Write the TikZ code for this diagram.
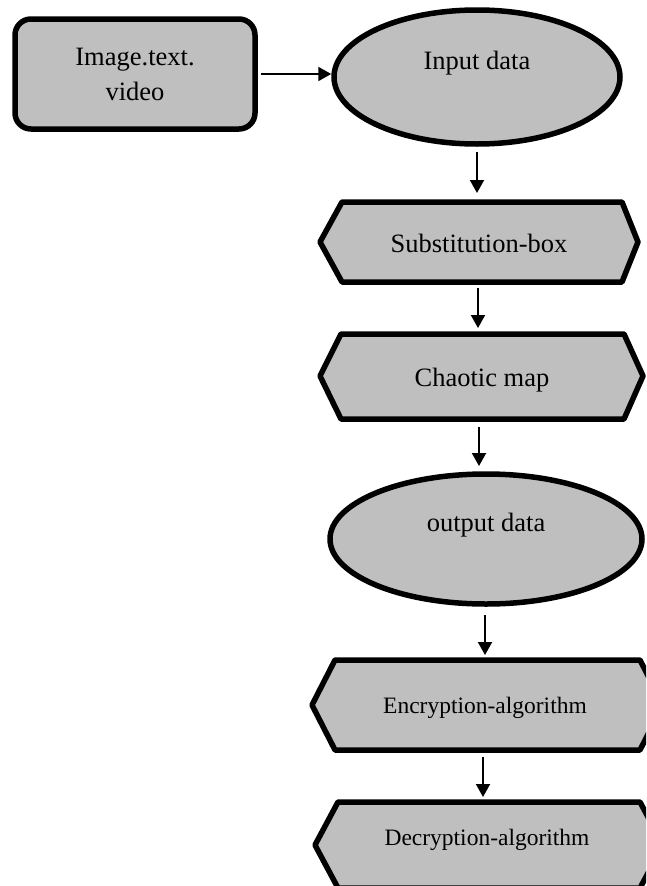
\documentclass[tikz,border=0pt]{standalone}
\usepackage{fontspec}
\setmainfont{Liberation Serif}
\usetikzlibrary{shapes.geometric}
\usetikzlibrary{arrows.meta}
\tikzset{>={Triangle[length=13pt,width=14pt]}}
\tikzset{
	% gray blocks
	blk/.style={fill=black!25,draw=black,line width=5.5pt,line join=round},
	% labels
	lbl/.style={font=\fontsize{26.5}{35}\selectfont,align=center,inner sep=0pt},
	smalllbl/.style={font=\fontsize{23.5}{26}\selectfont,inner sep=0pt},
	% arrows
	flow/.style={->,line width=2pt},
}
\begin{document}
\begin{tikzpicture}[x=1pt,y=-1pt]
	\useasboundingbox (0,0) rectangle (646,886);
	\clip (0,0) rectangle (646,886);
	
	\node[blk,lbl,rounded corners=16pt,minimum width=240pt,minimum height=110pt] (src) at (135,74) {Image.text.\\video};
	
	\node[blk,ellipse,minimum width=286pt,minimum height=134pt] (inp) at (477,77) {};
	\node[lbl] (inptxt) at (477,63) {Input data};
	
	\filldraw[blk] (320,242) -- (342,202) -- (622,202) -- (638,242) -- (622,282) -- (342,282) -- cycle;
	\node[lbl] (sbox) at (479,243) {Substitution-box};
	
	\filldraw[blk] (320,376) -- (341,334) -- (624,334) -- (643,376) -- (624,419) -- (341,419) -- cycle;
	\node[lbl] (chaos) at (482,380) {Chaotic map};
	
	\node[blk,ellipse,minimum width=312pt,minimum height=130pt] (outp) at (486,539) {};
	\node[lbl] (outptxt) at (486,525) {output data};
	
	\filldraw[blk] (312,705) -- (335,660) -- (640,660) -- (663,705) -- (640,750) -- (335,750) -- cycle;
	\node[smalllbl] (enc) at (485,708) {Encryption-algorithm};
	
	\filldraw[blk] (315,845) -- (338,802) -- (640,802) -- (663,845) -- (640,888) -- (338,888) -- cycle;
	\node[smalllbl] (dec) at (487,840) {Decryption-algorithm};
	
	% arrow ends
	\coordinate (a1) at (477,152); \coordinate (b1) at (477,193);
	\coordinate (a2) at (478,288); \coordinate (b2) at (478,328);
	\coordinate (a3) at (479,427); \coordinate (b3) at (479,466);
	\coordinate (a4) at (485,615); \coordinate (b4) at (485,655);
	\coordinate (a5) at (483,757); \coordinate (b5) at (483,797);
	
	\draw[flow] ([xshift=3pt]src.east) -- (src.east -| inp.west);
	\draw[flow] (a1) -- (b1);
	\draw[flow] (a2) -- (b2);
	\draw[flow] (a3) -- (b3);
	\draw[flow] (a4) -- (b4);
	\draw[flow] (a5) -- (b5);
	
\end{tikzpicture}
\end{document}
